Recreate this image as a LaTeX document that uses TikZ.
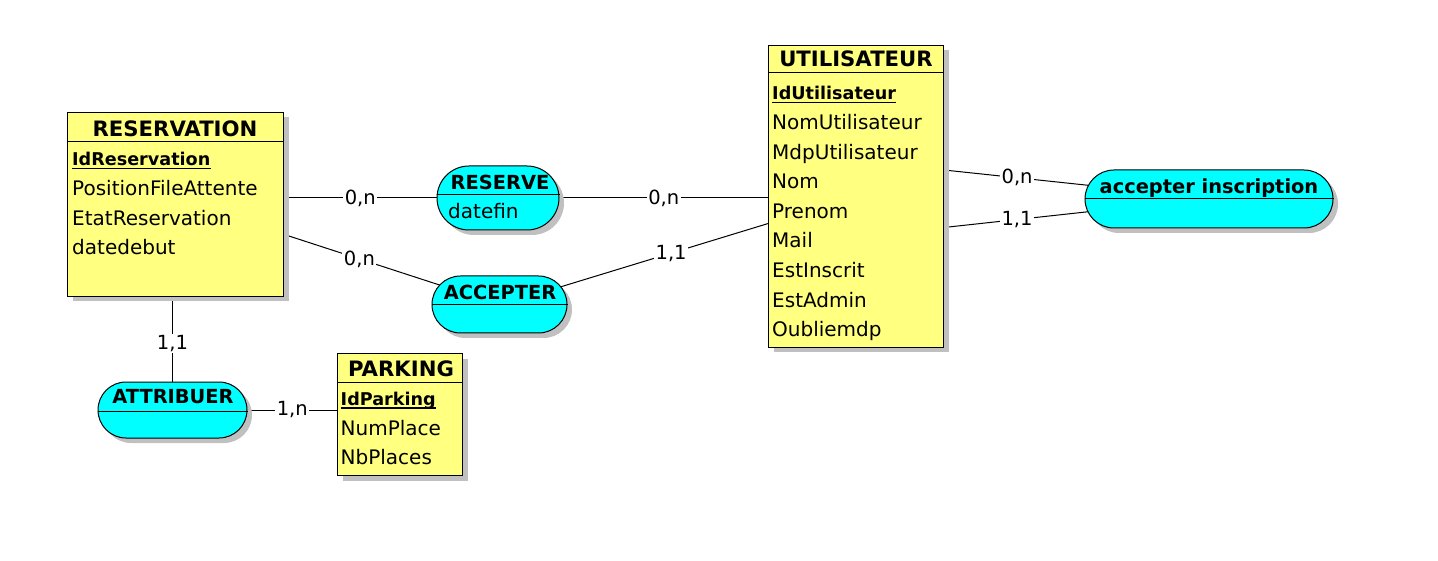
\documentclass[tikz,border=0pt]{standalone}
\usepackage{fontspec}
\setmainfont{DejaVu Sans}
\usetikzlibrary{shadows,calc,shapes.misc}
\definecolor{entfill}{RGB}{255,255,128}
\definecolor{assfill}{RGB}{0,255,255}
\definecolor{shade}{RGB}{192,192,192}
\pgfdeclarelayer{canvasbg}
\pgfdeclarelayer{background}
\pgfsetlayers{canvasbg,background,main}
\begin{document}
\begin{tikzpicture}[x=1pt,y=-1pt,
  shadowed/.style={drop shadow={shadow xshift=5pt,shadow yshift=-5pt,fill=shade,opacity=1}},
  entity/.style={draw,line width=1pt,fill=entfill,inner sep=0pt,anchor=north west,shadowed},
  assoc/.style={rounded rectangle,draw,line width=1pt,fill=assfill,inner sep=0pt,shadowed},
  etitle/.style={font=\bfseries\fontsize{21.2}{24}\selectfont,inner sep=0pt,anchor=base},
  atitle/.style={font=\bfseries\fontsize{19.4}{22}\selectfont,inner sep=0pt,anchor=base},
  attr/.style={font=\fontsize{20}{22}\selectfont,inner sep=0pt,anchor=base west},
  idattr/.style={font=\bfseries\fontsize{17.6}{22}\selectfont,inner sep=0pt,anchor=base west},
  card/.style={font=\fontsize{19.5}{22}\selectfont,fill=white,inner sep=1.5pt},
  link/.style={line width=1pt},
  sepline/.style={line width=1pt},
  uline/.style={line width=1.3pt}
]
\useasboundingbox (0,0) rectangle (1438,561);
\begin{pgfonlayer}{canvasbg}
\fill[white] (0,0) rectangle (1438,561);
\end{pgfonlayer}

% entities
\node[entity,minimum width=216pt,minimum height=184pt] (res) at (67,112) {};
\node[entity,minimum width=175pt,minimum height=302pt] (usr) at (768,45) {};
\node[entity,minimum width=125pt,minimum height=122pt] (prk) at (337,353) {};
\draw[sepline] ($(res.north west)+(0,30)$) -- ($(res.north east)+(0,30)$);
\draw[sepline] ($(usr.north west)+(0,28)$) -- ($(usr.north east)+(0,28)$);
\draw[sepline] ($(prk.north west)+(0,29)$) -- ($(prk.north east)+(0,29)$);

% associations
\node[assoc,minimum width=122pt,minimum height=64pt] (rsv) at (498,198) {};
\node[assoc,minimum width=135pt,minimum height=57pt] (acc) at (499.5,304.5) {};
\node[assoc,minimum width=248pt,minimum height=58pt] (aci) at (1209,199) {};
\node[assoc,minimum width=149pt,minimum height=56pt] (att) at (172.5,410) {};
\draw[sepline] ([yshift=3pt]rsv.west) -- ([yshift=3pt]rsv.east);
\draw[sepline] (acc.west) -- (acc.east);
\draw[sepline] (aci.west) -- (aci.east);
\draw[sepline] ([yshift=-1pt]att.west) -- ([yshift=-1pt]att.east);

% titles
\node[etitle] (tres) at (175,137) {RESERVATION};
\node[etitle] (tusr) at (856,67) {UTILISATEUR};
\node[etitle] (tprk) at (401,376.7) {PARKING};
\node[atitle] (trsv) at (500,190) {RESERVE};
\node[atitle] (tacc) at (500,300) {ACCEPTER};
\node[atitle] (taci) at (1209,193.3) {accepter inscription};
\node[atitle] (tatt) at (173,403.3) {ATTRIBUER};

% attributes
\node[idattr] (idres) at (72,166) {IdReservation};
\draw[uline] ([yshift=-2.5pt]idres.base west) -- ([yshift=-2.5pt]idres.base east);
\foreach \t [count=\i] in {PositionFileAttente,EtatReservation,datedebut}
  \node[attr] (ares\i) at (72,{166+29.6*\i}) {\t};

\node[idattr] (idusr) at (772,100) {IdUtilisateur};
\draw[uline] ([yshift=-2.5pt]idusr.base west) -- ([yshift=-2.5pt]idusr.base east);
\foreach \t [count=\i] in {NomUtilisateur,MdpUtilisateur,Nom,Prenom,Mail,EstInscrit,EstAdmin,Oubliemdp}
  \node[attr] (ausr\i) at (772,{100+29.6*\i}) {\t};

\node[idattr] (idprk) at (340.5,405.5) {IdParking};
\draw[uline] ([yshift=-2.5pt]idprk.base west) -- ([yshift=-2.5pt]idprk.base east);
\foreach \t [count=\i] in {NumPlace,NbPlaces}
  \node[attr] (aprk\i) at (340.5,{405.5+29.6*\i}) {\t};

\node[attr] (arsv) at (448,218.3) {datefin};

% connectors
\begin{pgfonlayer}{background}
\draw[link] (res.east |- rsv.west) -- node[card] (c1) {0,n} (rsv.west);
\draw[link] (rsv.east) -- node[card] (c2) {0,n} (usr.west |- rsv.east);
\draw[link] ($(res.north east)+(0,122.4)$) -- node[card,pos=0.43] (c3) {0,n} ($(acc.west)+(28,-13)$);
\draw[link] ($(acc.east)+(-27,-11.5)$) -- node[card,pos=0.55] (c4) {1,1} ($(usr.west)+(10,24)$);
\draw[link] ($(usr.east)+(0,-26.5)$) -- node[card,pos=0.47] (c5) {0,n} ($(aci.west)+(15,-12.5)$);
\draw[link] ($(usr.east)+(0,31)$) -- node[card,pos=0.47] (c6) {1,1} ($(aci.west)+(15,11.5)$);
\draw[link] (att.north |- res.south) -- node[card,pos=0.55] (c7) {1,1} (att.north);
\draw[link] (att.east) -- node[card] (c8) {1,n} (prk.west |- att.east);
\end{pgfonlayer}
\end{tikzpicture}
\end{document}
